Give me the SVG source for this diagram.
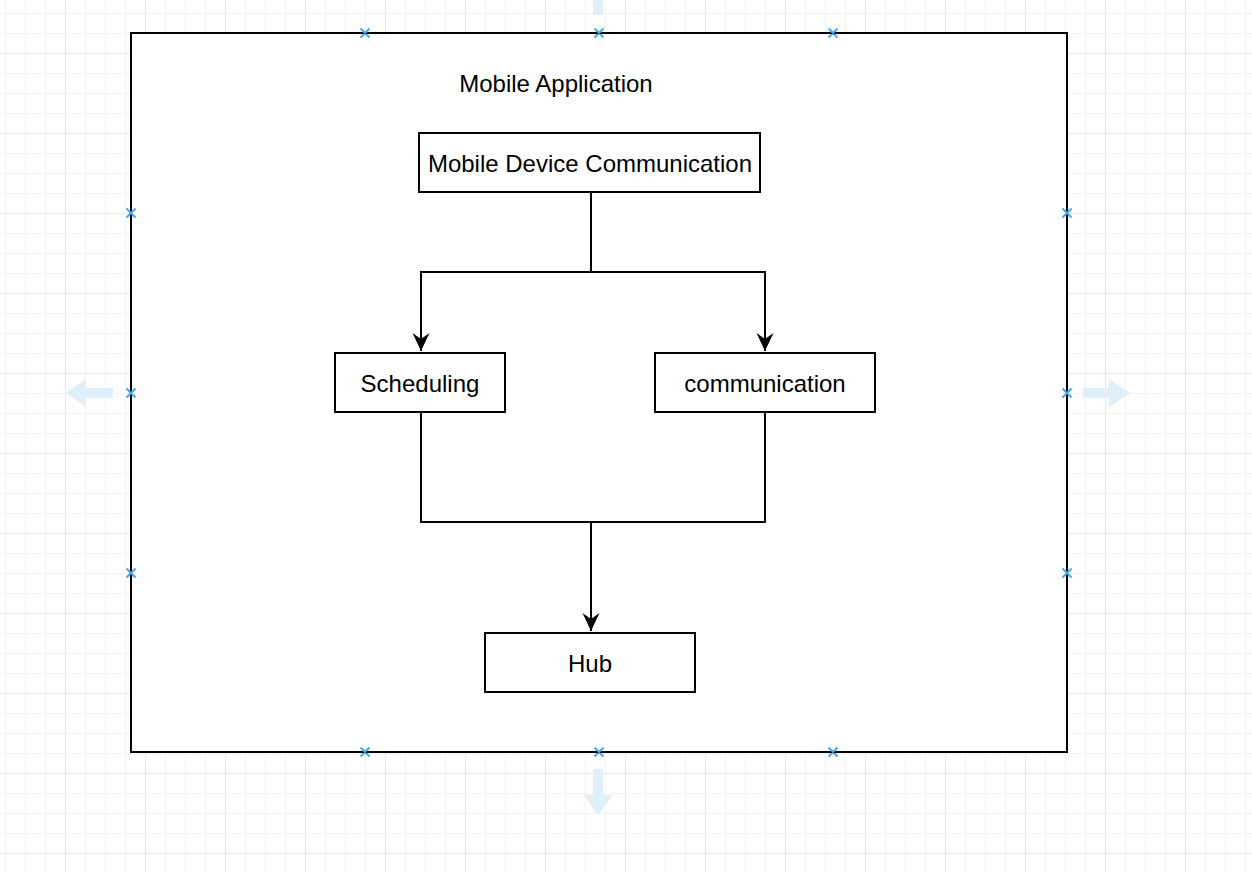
<svg xmlns="http://www.w3.org/2000/svg" width="1252" height="872" viewBox="0 0 1252 872">
<defs>
<style>
.minor{stroke:#f3f3f3;stroke-width:1}
.major{stroke:#e9e9e9;stroke-width:1}
.box{fill:#ffffff;stroke:#000000;stroke-width:2}
.lbl{font-family:"Liberation Sans",Arial,Helvetica,sans-serif;font-size:24px;fill:#000000;text-anchor:middle}
.edge{fill:none;stroke:#000000;stroke-width:2}
.hint{fill:#dff0fb}
.mark{stroke:#3fa7ea;stroke-width:1.8;fill:none}
</style>
<pattern id="gridMinor" x="5" y="13" width="20" height="20" patternUnits="userSpaceOnUse">
<path d="M0.5,0 V20 M0,0.5 H20" class="minor"/>
</pattern>
<pattern id="gridMajor" x="65" y="53" width="80" height="80" patternUnits="userSpaceOnUse">
<path d="M0.5,0 V80 M0,0.5 H80" class="major"/>
</pattern>
<marker id="arr" markerWidth="20" markerHeight="20" viewBox="0 0 20 20" refX="18" refY="10" orient="auto" markerUnits="userSpaceOnUse">
<path d="M18,10 L0,1.5 L6,10 L0,18.5 Z" fill="#000000"/>
</marker>
</defs>
<g id="background">
<rect x="0" y="0" width="1252" height="872" fill="#ffffff"/>
<rect x="0" y="0" width="1252" height="872" fill="url(#gridMinor)"/>
<rect x="0" y="0" width="1252" height="872" fill="url(#gridMajor)"/>
</g>
<g id="hints">
<path class="hint" d="M593,-11 H603 V15 H593 Z M584,-11 L598,-31 L613,-11 Z"/>
<path class="hint" d="M593,769 H603 V795 H613 L598,815 L584,795 H593 Z"/>
<path class="hint" d="M113,388 V398 H86 V407 L66,393 L86,379 V388 Z"/>
<path class="hint" d="M1083,388 V398 H1109 V407 L1130,393 L1109,379 V388 Z"/>
</g>
<g id="container">
<rect class="box" x="131" y="33" width="936" height="719"/>
<text class="lbl" x="556" y="92">Mobile Application</text>
</g>
<g id="connectors">
<path class="edge" d="M591,192 V272 H421 V351" marker-end="url(#arr)"/>
<path class="edge" d="M591,272 H765 V351" marker-end="url(#arr)"/>
<path class="edge" d="M421,412 V522 H765 V412"/>
<path class="edge" d="M591,522 V631" marker-end="url(#arr)"/>
</g>
<g id="node-mobile-device-communication">
<rect class="box" x="419" y="133" width="341" height="59"/>
<text class="lbl" x="590" y="172">Mobile Device Communication</text>
</g>
<g id="node-scheduling">
<rect class="box" x="335" y="353" width="170" height="59"/>
<text class="lbl" x="420" y="392">Scheduling</text>
</g>
<g id="node-communication">
<rect class="box" x="655" y="353" width="220" height="59"/>
<text class="lbl" x="765" y="392">communication</text>
</g>
<g id="node-hub">
<rect class="box" x="485" y="633" width="210" height="59"/>
<text class="lbl" x="590" y="672">Hub</text>
</g>
<g id="markers">
<path class="mark" d="M360.5,28.5 l9,9 m0,-9 l-9,9 M594.5,28.5 l9,9 m0,-9 l-9,9 M828.5,28.5 l9,9 m0,-9 l-9,9"/>
<path class="mark" d="M360.5,747.5 l9,9 m0,-9 l-9,9 M594.5,747.5 l9,9 m0,-9 l-9,9 M828.5,747.5 l9,9 m0,-9 l-9,9"/>
<path class="mark" d="M126.5,208.5 l9,9 m0,-9 l-9,9 M126.5,388.5 l9,9 m0,-9 l-9,9 M126.5,568.5 l9,9 m0,-9 l-9,9"/>
<path class="mark" d="M1062.5,208.5 l9,9 m0,-9 l-9,9 M1062.5,388.5 l9,9 m0,-9 l-9,9 M1062.5,568.5 l9,9 m0,-9 l-9,9"/>
</g>
</svg>
